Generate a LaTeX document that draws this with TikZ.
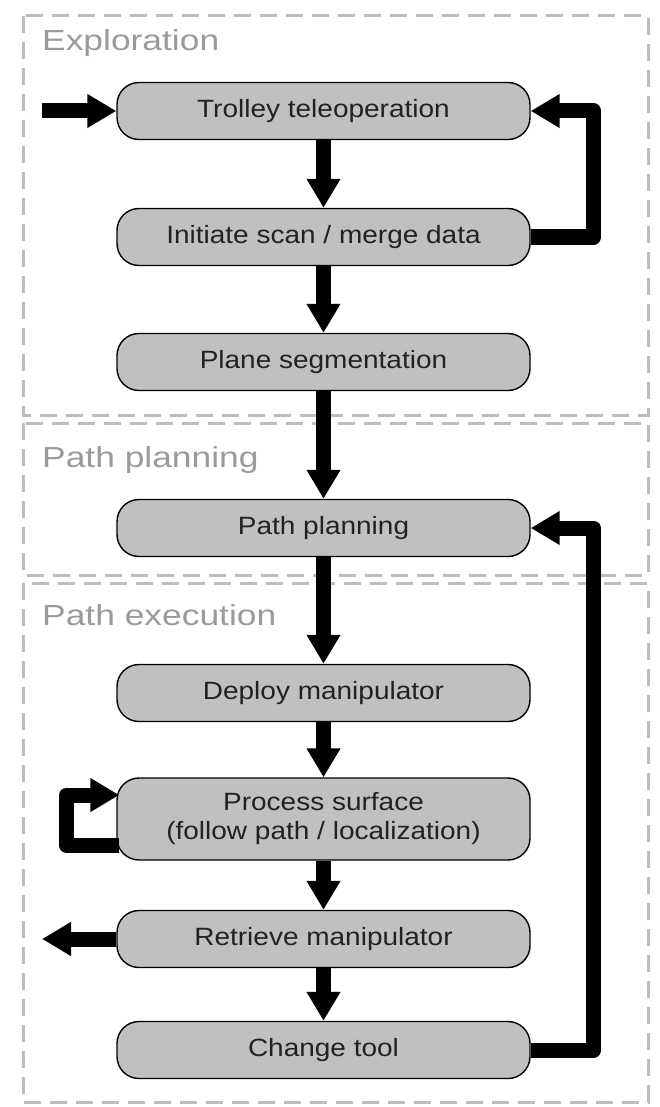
\documentclass[tikz,border=0pt]{standalone}
\usepackage{fontspec}
\setmainfont{Liberation Sans}
\newfontfamily\boxfont[FakeStretch=1.12]{Liberation Sans}
\newfontfamily\labfont[FakeStretch=1.22]{Liberation Sans}
\usetikzlibrary{arrows.meta,calc}
\definecolor{boxgray}{HTML}{C0C0C0}
\definecolor{dashgray}{HTML}{BDBDBD}
\definecolor{labelgray}{HTML}{9A9A9A}
\definecolor{textdark}{HTML}{222222}
\begin{document}
\begin{tikzpicture}[x=1pt,y=-1pt,
  stepbox/.style={draw=black, line width=1.4pt, fill=boxgray, rounded corners=22pt,
    minimum width=413pt, minimum height=57pt, inner sep=0pt, align=center,
    font=\boxfont\fontsize{25}{29}\selectfont, text=textdark},
  group/.style={draw=dashgray, line width=3pt, dash pattern=on 17pt off 9pt},
  grouplabel/.style={anchor=base west, text=labelgray, font=\labfont\fontsize{29}{34}\selectfont, inner sep=0pt},
  flow/.style={line width=15pt, -{Triangle[width=32pt,length=29pt]}, line join=round}
]
\useasboundingbox (0,0) rectangle (659,1107);
% groups
\draw[group] (23,16) rectangle (648,415);
\draw[group] (23,423) rectangle (648,575);
\draw[group] (23,583) rectangle (648,1102);
\node[grouplabel] (lexp) at (42,51) {Exploration};
\node[grouplabel] (lpp) at (42,467) {Path planning};
\node[grouplabel] (lpe) at (42,625) {Path execution};
% steps
\node[stepbox] (trolley) at (323.5,111) {Trolley teleoperation};
\node[stepbox] (init) at (323.5,237) {Initiate scan / merge data};
\node[stepbox] (plane) at (323.5,362) {Plane segmentation};
\node[stepbox] (pplan) at (323.5,528) {Path planning};
\node[stepbox] (deploy) at (323.5,693) {Deploy manipulator};
\node[stepbox, minimum height=82pt] (proc) at (323.5,819) {Process surface\\(follow path / localization)};
\node[stepbox] (retr) at (323.5,939) {Retrieve manipulator};
\node[stepbox] (change) at (323.5,1050) {Change tool};
% connectors
\coordinate (in) at (42,111);
\coordinate (out) at (42,939);
\draw[flow] (in) -- (trolley.west);
\draw[flow] (trolley) -- (init);
\draw[flow] (init.east) -- ++(63,0) |- (trolley.east);
\draw[flow] (init) -- (plane);
\draw[flow] (plane) -- (pplan);
\draw[flow] (pplan) -- (deploy);
\draw[flow] (deploy) -- (proc);
\draw[flow] ([xshift=3pt,yshift=-26pt]proc.west) -- ++(-53,0) -- ++(0,-50) -- ++(53,0);
\draw[flow] (proc) -- (retr);
\draw[flow] (retr.west) -- (out);
\draw[flow] (retr) -- (change);
\draw[flow] (change.east) -- ++(63,0) |- (pplan.east);
\end{tikzpicture}
\end{document}
